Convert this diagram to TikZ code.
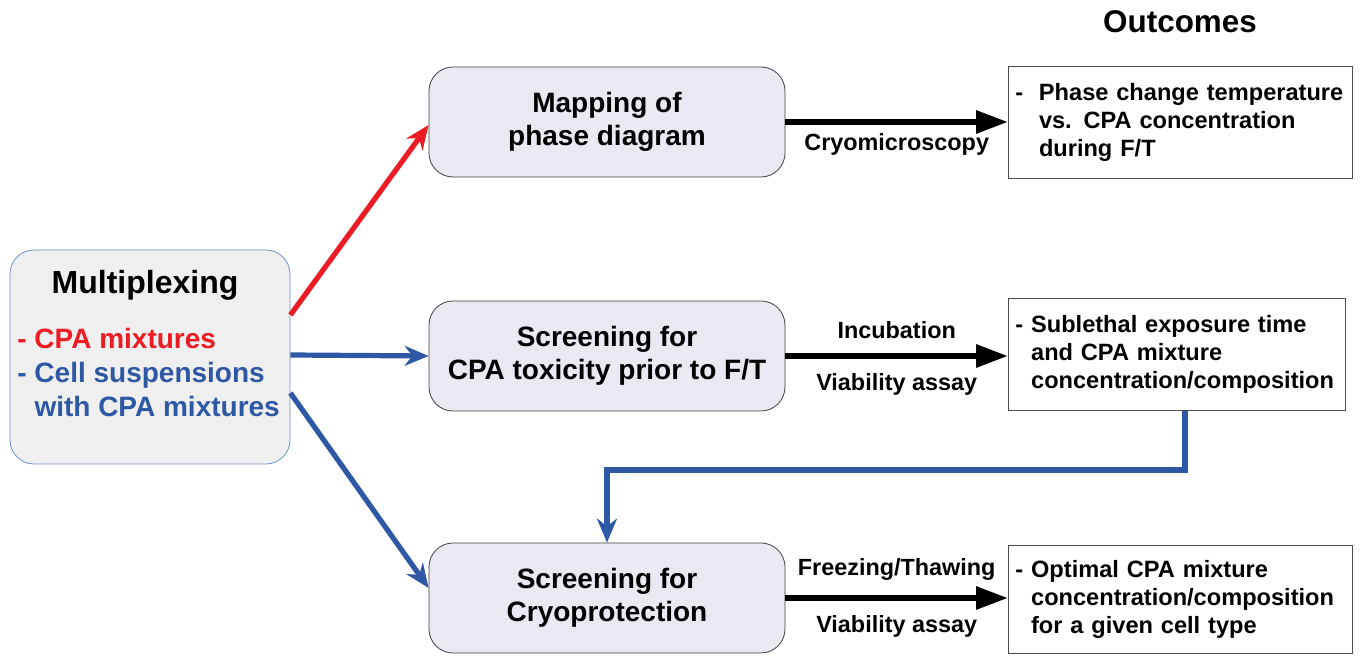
\documentclass[tikz,border=0pt]{standalone}
\usepackage{fontspec}
\setmainfont{Liberation Sans}
\usepackage{xcolor}
\usetikzlibrary{arrows.meta,positioning}
\definecolor{cpared}{RGB}{235, 28, 36}
\definecolor{cellblue}{RGB}{47, 88, 164}
\definecolor{edgeblue}{RGB}{110, 145, 200}
\definecolor{stepfill}{RGB}{233, 233, 241}
\definecolor{boxgray}{RGB}{239, 239, 239}
\newcommand{\hang}{\phantom{-\ }}

\begin{document}
\begin{tikzpicture}[x=0.5pt, y=-0.5pt,
    stepbox/.style={draw=black!75, fill=stepfill, rounded corners=12pt, minimum width=178pt, minimum height=55pt, align=center, font=\fontsize{14}{16.5}\selectfont\bfseries},
    outbox/.style={draw=black!70, fill=white, anchor=north west, align=left, inner xsep=3.5pt, inner ysep=4pt, font=\fontsize{11.8}{14}\selectfont\bfseries},
    steplabel/.style={font=\fontsize{11.7}{13}\selectfont\bfseries},
    flow/.style={line width=3pt, -{Triangle[length=16pt, width=11pt]}},
    branch/.style={line width=2.6pt, -{Stealth[length=12pt, width=10pt]}}]
  \useasboundingbox (0,0) rectangle (1361,656);

  % source box
  \node[draw=edgeblue, fill=boxgray, rounded corners=12pt, minimum width=140pt, minimum height=107pt] (multi) at (150,357) {};
  \node[font=\fontsize{16}{18}\selectfont\bfseries] (multititle) at (145,285) {Multiplexing};
  \node[anchor=west, align=left, inner sep=0pt, font=\fontsize{14}{17}\selectfont\bfseries] (multilist) at (17,372)
    {\textcolor{cpared}{- CPA mixtures}\\ \textcolor{cellblue}{- Cell suspensions}\\ \textcolor{cellblue}{\hang with CPA mixtures}};

  % screening steps
  \node[stepbox] (phase) at (607,122) {Mapping of\\phase diagram};
  \node[stepbox] (toxic) at (607,356) {Screening for\\CPA toxicity prior to F/T};
  \node[stepbox] (cryo) at (607,598) {Screening for\\Cryoprotection};

  % outcomes
  \node[font=\fontsize{15.7}{18}\selectfont\bfseries] (outcomes) at (1180,22) {Outcomes};
  \node[outbox, text width=165pt, minimum height=56pt] (out1) at (1008,66)
    {-\ \ Phase change temperature\\\hang\ vs. CPA concentration\\\hang\ during F/T};
  \node[outbox, text width=161.5pt, minimum height=56pt] (out2) at (1008,298)
    {- Sublethal exposure time\\\hang and CPA mixture\\\hang concentration/composition};
  \node[outbox, text width=165pt, minimum height=54pt] (out3) at (1008,545)
    {- Optimal CPA mixture\\\hang concentration/composition\\\hang for a given cell type};

  % branches from the source
  \draw[branch, cpared] (multi.east |- 0,315) -- (phase.west |- 0,125);
  \draw[branch, cellblue] (multi.east |- 0,355) -- (toxic.west);
  \draw[branch, cellblue] (multi.east |- 0,393) -- (cryo.west |- 0,588);

  % methods
  \draw[flow] (phase.east) -- (out1.west |- phase.east)
    node[steplabel, midway, below=1pt] {Cryomicroscopy};
  \draw[flow] (toxic.east) -- (out2.west |- toxic.east)
    node[steplabel, midway, above=4pt] {Incubation}
    node[steplabel, midway, below=4pt] {Viability assay};
  \draw[flow] (cryo.east) -- (out3.west |- cryo.east)
    node[steplabel, midway, above=4pt] {Freezing/Thawing}
    node[steplabel, midway, below=4pt] {Viability assay};

  % feedback to cryoprotection screening
  \draw[branch, cellblue] (out2.south -| 1185,0) -- (1185,470) -- (cryo.north |- 0,470) -- (cryo.north);
\end{tikzpicture}
\end{document}
